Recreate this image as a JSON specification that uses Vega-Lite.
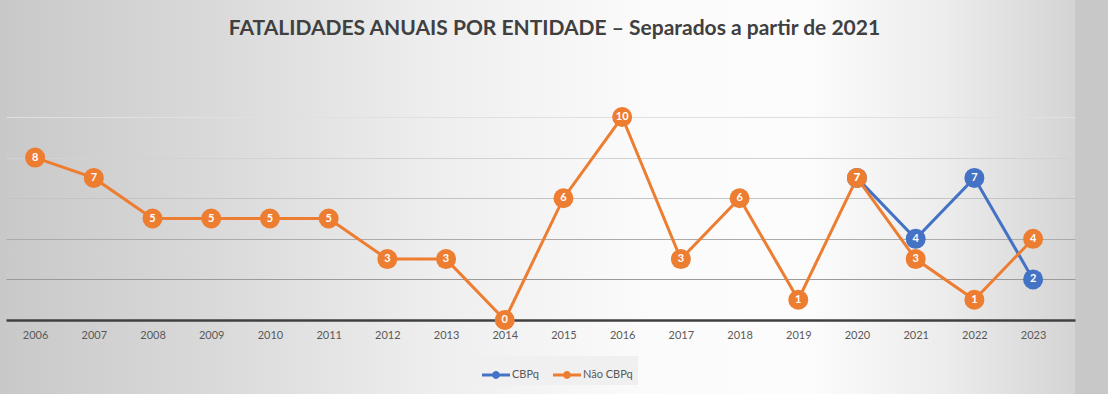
{
  "$schema": "https://vega.github.io/schema/vega-lite/v6.json",
  "autosize": "none",
  "padding": {"left": 6, "right": 33, "top": 0, "bottom": 0},
  "width": 1069,
  "height": 394,
  "background": "#c8c8c8",
  "title": {
    "text": "FATALIDADES ANUAIS POR ENTIDADE – Separados a partir de 2021",
    "font": "Lato",
    "fontSize": 21,
    "fontWeight": "bold",
    "color": "#404040",
    "anchor": "middle",
    "frame": "group",
    "offset": -56,
    "baseline": "alphabetic",
    "dx": 14
  },
  "data": {
    "values": [
      {"ano": "2020", "serie": "CBPq", "valor": 7},
      {"ano": "2021", "serie": "CBPq", "valor": 4},
      {"ano": "2022", "serie": "CBPq", "valor": 7},
      {"ano": "2023", "serie": "CBPq", "valor": 2},
      {"ano": "2006", "serie": "Não CBPq", "valor": 8},
      {"ano": "2007", "serie": "Não CBPq", "valor": 7},
      {"ano": "2008", "serie": "Não CBPq", "valor": 5},
      {"ano": "2009", "serie": "Não CBPq", "valor": 5},
      {"ano": "2010", "serie": "Não CBPq", "valor": 5},
      {"ano": "2011", "serie": "Não CBPq", "valor": 5},
      {"ano": "2012", "serie": "Não CBPq", "valor": 3},
      {"ano": "2013", "serie": "Não CBPq", "valor": 3},
      {"ano": "2014", "serie": "Não CBPq", "valor": 0},
      {"ano": "2015", "serie": "Não CBPq", "valor": 6},
      {"ano": "2016", "serie": "Não CBPq", "valor": 10},
      {"ano": "2017", "serie": "Não CBPq", "valor": 3},
      {"ano": "2018", "serie": "Não CBPq", "valor": 6},
      {"ano": "2019", "serie": "Não CBPq", "valor": 1},
      {"ano": "2020", "serie": "Não CBPq", "valor": 7},
      {"ano": "2021", "serie": "Não CBPq", "valor": 3},
      {"ano": "2022", "serie": "Não CBPq", "valor": 1},
      {"ano": "2023", "serie": "Não CBPq", "valor": 4}
    ]
  },
  "encoding": {
    "x": {
      "field": "ano",
      "type": "ordinal",
      "sort": null,
      "scale": {"type": "point", "padding": 0.605, "align": 0.41, "domain": ["2006","2007","2008","2009","2010","2011","2012","2013","2014","2015","2016","2017","2018","2019","2020","2021","2022","2023"]},
      "axis": {
        "title": null,
        "orient": "bottom",
        "offset": -74,
        "domainColor": "#404040",
        "domainWidth": 2.5,
        "ticks": false,
        "grid": false,
        "labelAngle": 0,
        "labelColor": "#595959",
        "labelFont": "Lato",
        "labelFontSize": 11,
        "labelPadding": 9
      }
    },
    "y": {
      "field": "valor",
      "type": "quantitative",
      "scale": {"domain": [-3.645, 15.764], "nice": false, "zero": false},
      "axis": {
        "title": null,
        "values": [2, 4, 6, 8, 10],
        "labels": false,
        "ticks": false,
        "domain": false,
        "grid": true,
        "gridWidth": 1,
        "gridColor": {
          "condition": [
            {"test": "datum.value >= 10", "value": "#e0e0e0"},
            {"test": "datum.value >= 8", "value": "#d2d2d2"},
            {"test": "datum.value >= 6", "value": "#c4c4c4"},
            {"test": "datum.value >= 4", "value": "#ababab"}
          ],
          "value": "#9a9a9a"
        }
      }
    },
    "color": {
      "field": "serie",
      "type": "nominal",
      "scale": {"domain": ["CBPq", "Não CBPq"], "range": ["#4472c4", "#ed7d31"]},
      "legend": {
        "orient": "none",
        "legendX": 471,
        "legendY": 356,
        "direction": "horizontal",
        "title": null,
        "symbolType": "M-1,-0.11L1,-0.11L1,0.11L-1,0.11Z M-0.28,0A0.28,0.28,0,1,1,0.28,0A0.28,0.28,0,1,1,-0.28,0Z",
        "symbolSize": 784,
        "symbolStrokeWidth": 0,
        "symbolOpacity": 1,
        "labelFont": "Lato",
        "labelFontSize": 11,
        "labelColor": "#595959",
        "labelOffset": 2,
        "fillColor": "#f0f0f0",
        "padding": 5,
        "columnPadding": 14
      }
    }
  },
  "layer": [
    {
      "mark": {"type": "line", "strokeWidth": 3}
    },
    {
      "mark": {"type": "point", "filled": true, "size": 400, "opacity": 1}
    },
    {
      "mark": {"type": "text", "fontWeight": "bold", "fontSize": 11, "font": "Lato", "baseline": "middle", "align": "center"},
      "encoding": {
        "text": {"field": "valor", "type": "quantitative"},
        "color": {"value": "white"}
      }
    }
  ],
  "config": {
    "view": {
      "stroke": null,
      "fill": {
        "gradient": "linear",
        "x1": 0, "y1": 0, "x2": 1, "y2": 0,
        "stops": [
          {"offset": 0, "color": "#c9c9c9"},
          {"offset": 0.2, "color": "#dadada"},
          {"offset": 0.4, "color": "#eeeeee"},
          {"offset": 0.6, "color": "#fbfbfb"},
          {"offset": 0.75, "color": "#fcfcfc"},
          {"offset": 0.88, "color": "#ececec"},
          {"offset": 1, "color": "#d4d4d4"}
        ]
      }
    }
  }
}
